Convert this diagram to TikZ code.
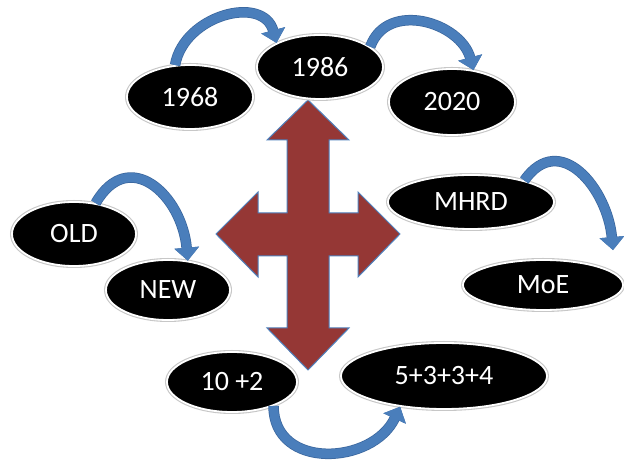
\documentclass[tikz,border=0pt]{standalone}
\usepackage{fontspec}
\setmainfont{Carlito}
\usepackage{xcolor}
\usepackage{tikz}
\usetikzlibrary{arrows.meta, shapes.geometric}
\definecolor{crossred}{HTML}{953735}
\definecolor{edgeblue}{HTML}{4F81BD}
\definecolor{bendblue}{HTML}{4A7EBB}
\definecolor{benddark}{HTML}{3B679E}

\begin{document}
\begin{tikzpicture}[x=1pt, y=1pt,
    pill/.style={ellipse, fill=black, draw=white, line width=1.8pt, inner sep=0pt,
      preaction={draw=black!22, line width=4pt},
      font=\fontsize{28}{28}\selectfont, text=white},
    bendarrow/.style={draw=bendblue, line width=9pt, -{Triangle[width=24pt,length=13pt]},
      preaction={draw=benddark, line width=10.5pt, -{Triangle[width=24pt,length=13pt]}}}]
    \useasboundingbox (0,0) rectangle (624,460);

    % cross in the middle
    \draw[fill=crossred, draw=edgeblue, line width=1pt, line join=miter]
      (308,360) -- (349,320) -- (329,320) -- (329,247) -- (358,247) -- (358,268)
      -- (400,226) -- (358,183) -- (358,204) -- (329,204) -- (329,132) -- (349,132)
      -- (308,90) -- (267,132) -- (287,132) -- (287,204) -- (258,204) -- (258,183)
      -- (216,226) -- (258,268) -- (258,247) -- (287,247) -- (287,320) -- (267,320) -- cycle;

    \foreach \name/\x/\y/\w/\h/\txt in {
        y1968/190/363/126/64/1968, y1986/320/393/126/64/1986, y2020/452/358/126/66/2020,
        old/74/226/124/64/OLD, new/168/170/124/60/NEW,
        mhrd/471/258/166/54/MHRD, moe/543/175/160/50/MoE,
        tenplus/232/78/130/60/10 +2, fivethree/444/84/206/66/5+3+3+4} {
      \node[pill, minimum width=\w pt, minimum height=\h pt] (\name) at (\x,\y) {\txt};
    }

    \coordinate (moetip) at ([xshift=70pt,yshift=9pt]moe.north);

    \draw[bendarrow] (y1968.115) to[out=80, in=105, looseness=1.25] (y1986.151);
    \draw[bendarrow] (y1986.22) to[out=70, in=105, looseness=1.2] (y2020.56);
    \draw[bendarrow] (old.55) to[out=60, in=95, looseness=1.55] (new.56);
    \draw[bendarrow] (mhrd.22) to[out=55, in=95, looseness=1.4] (moetip);
    \draw[bendarrow] (tenplus.-30) to[out=-90, in=-115, looseness=1.3] (fivethree.215);
  \end{tikzpicture}
\end{document}
